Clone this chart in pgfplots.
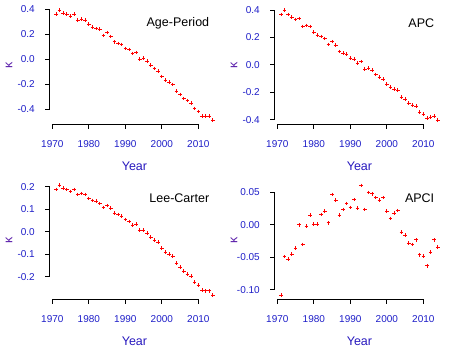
\documentclass[border=0pt]{standalone}
\usepackage{pgfplots}
\pgfplotsset{compat=1.18}
\usepackage{fontspec}
\setmainfont{Liberation Sans}
\definecolor{tickblue}{RGB}{30,30,200}
\definecolor{labblue}{RGB}{40,25,190}
\definecolor{kapcol}{RGB}{90,30,170}
\tikzset{xtl/.style={font=\fontsize{10}{12}\selectfont, text=tickblue, yshift=-19.6pt},
  ytl/.style={font=\fontsize{10}{12}\selectfont, text=tickblue, anchor=east, xshift=-11.4pt}}
\pgfplotsset{rstyle/.style={
  scale only axis, width=169.5pt, height=118.5pt,
  xmin=1969.28, xmax=2015.72,
  hide axis, clip=false,
}, rmark/.style={red, only marks, mark=+, mark size=1.8pt, line width=0.9pt}}
% R-style axes: ymin, first y tick, last y tick, list of y ticks
\newcommand{\raxes}[4]{%
  \fill[black] ([yshift=-0.5pt]axis cs:1970,#1) rectangle ([yshift=0.5pt]axis cs:2010,#1);
  \fill[black] ([xshift=-0.5pt]axis cs:1969.28,#2) rectangle ([xshift=0.5pt]axis cs:1969.28,#3);
  \pgfplotsinvokeforeach{1970,1980,1990,2000,2010}{%
    \fill[black] ([xshift=-0.5pt]axis cs:##1,#1) rectangle ([xshift=0.5pt,yshift=-5pt]axis cs:##1,#1);}
  \pgfplotsinvokeforeach{#4}{%
    \fill[black] ([yshift=-0.5pt]axis cs:1969.28,##1) rectangle ([yshift=0.5pt,xshift=-5pt]axis cs:1969.28,##1);}
}
\newcommand{\decor}[2]{% ymin, title
  \pgfplotsinvokeforeach{1970,1980,1990,2000,2010}{\node[xtl] at (axis cs:##1,#1) {##1};}
  \node[anchor=east, font=\fontsize{12.5}{14}\selectfont] at (rel axis cs:0.9617,0.851) {#2};
  \node[font=\fontsize{12.5}{14}\selectfont, text=labblue] at (rel axis cs:0.5,-0.351) {Year};
  \node[rotate=90, font=\fontsize{12.5}{14}\selectfont, text=kapcol] at (rel axis cs:-0.240,0.5) {κ};
}
\newcommand{\ylab}[2]{\node[ytl] at (axis cs:1969.28,#1) {#2};}
\begin{document}
\begin{tikzpicture}
\useasboundingbox (0,0) rectangle (450pt,350pt);
% Panel 1: Age-Period
\begin{axis}[rstyle, at={(49.7pt,225.6pt)}, anchor=south west,
  ymin=-0.5232, ymax=0.4272]
\addplot[rmark] coordinates {
(1971,0.360) (1972,0.392) (1973,0.368) (1974,0.360) (1975,0.344) (1976,0.360)
(1977,0.312) (1978,0.320) (1979,0.312) (1980,0.280) (1981,0.256) (1982,0.245)
(1983,0.240) (1984,0.190) (1985,0.215) (1986,0.183) (1987,0.140) (1988,0.127)
(1989,0.119) (1990,0.087) (1991,0.079) (1992,0.047) (1993,0.055) (1994,0.001)
(1995,0.009) (1996,-0.017) (1997,-0.049) (1998,-0.074) (1999,-0.095) (2000,-0.138)
(2001,-0.167) (2002,-0.183) (2003,-0.202) (2004,-0.256) (2005,-0.282) (2006,-0.314)
(2007,-0.333) (2008,-0.352) (2009,-0.395) (2010,-0.419) (2011,-0.456) (2012,-0.456)
(2013,-0.456) (2014,-0.488)};
\raxes{-0.5232}{-0.4}{0.4}{-0.4,-0.2,0,0.2,0.4}
\ylab{-0.4}{-0.4}\ylab{-0.2}{-0.2}\ylab{0}{0.0}\ylab{0.2}{0.2}\ylab{0.4}{0.4}
\decor{-0.5232}{Age-Period}
\end{axis}
% Panel 2: APC
\begin{axis}[rstyle, at={(274.7pt,225.6pt)}, anchor=south west,
  ymin=-0.434, ymax=0.430]
\addplot[rmark] coordinates {
(1971,0.368) (1972,0.398) (1973,0.368) (1974,0.347) (1975,0.332) (1976,0.339)
(1977,0.281) (1978,0.288) (1979,0.281) (1980,0.238) (1981,0.216) (1982,0.208)
(1983,0.192) (1984,0.150) (1985,0.170) (1986,0.143) (1987,0.097) (1988,0.085)
(1989,0.078) (1990,0.048) (1991,0.041) (1992,0.012) (1993,0.024) (1994,-0.032)
(1995,-0.024) (1996,-0.039) (1997,-0.070) (1998,-0.090) (1999,-0.104) (2000,-0.141)
(2001,-0.162) (2002,-0.177) (2003,-0.184) (2004,-0.235) (2005,-0.250) (2006,-0.279)
(2007,-0.293) (2008,-0.301) (2009,-0.344) (2010,-0.359) (2011,-0.388) (2012,-0.381)
(2013,-0.373) (2014,-0.402)};
\raxes{-0.434}{-0.4}{0.4}{-0.4,-0.2,0,0.2,0.4}
\ylab{-0.4}{-0.4}\ylab{-0.2}{-0.2}\ylab{0}{0.0}\ylab{0.2}{0.2}\ylab{0.4}{0.4}
\decor{-0.434}{APC}
\end{axis}
% Panel 3: Lee-Carter
\begin{axis}[rstyle, at={(49.7pt,50.6pt)}, anchor=south west,
  ymin=-0.3005, ymax=0.2255]
\addplot[rmark] coordinates {
(1971,0.188) (1972,0.206) (1973,0.193) (1974,0.188) (1975,0.179) (1976,0.188)
(1977,0.166) (1978,0.170) (1979,0.166) (1980,0.148) (1981,0.139) (1982,0.135)
(1983,0.126) (1984,0.108) (1985,0.117) (1986,0.104) (1987,0.082) (1988,0.077)
(1989,0.069) (1990,0.055) (1991,0.046) (1992,0.029) (1993,0.033) (1994,0.007)
(1995,0.007) (1996,-0.007) (1997,-0.024) (1998,-0.038) (1999,-0.046) (2000,-0.073)
(2001,-0.091) (2002,-0.100) (2003,-0.109) (2004,-0.140) (2005,-0.157) (2006,-0.175)
(2007,-0.188) (2008,-0.197) (2009,-0.224) (2010,-0.237) (2011,-0.259) (2012,-0.263)
(2013,-0.263) (2014,-0.281)};
\raxes{-0.3005}{-0.2}{0.2}{-0.2,-0.1,0,0.1,0.2}
\ylab{-0.2}{-0.2}\ylab{-0.1}{-0.1}\ylab{0}{0.0}\ylab{0.1}{0.1}\ylab{0.2}{0.2}
\decor{-0.3005}{Lee-Carter}
\end{axis}
% Panel 4: APCI
\begin{axis}[rstyle, at={(274.7pt,50.6pt)}, anchor=south west,
  ymin=-0.1148, ymax=0.0678]
\addplot[rmark] coordinates {
(1971,-0.108) (1972,-0.049) (1973,-0.053) (1974,-0.045) (1975,-0.036) (1976,0.000)
(1977,-0.030) (1978,-0.002) (1979,0.015) (1980,0.001) (1981,0.001) (1982,0.016)
(1983,0.021) (1984,0.003) (1985,0.047) (1986,0.038) (1987,0.015) (1988,0.024)
(1989,0.033) (1990,0.027) (1991,0.039) (1992,0.026) (1993,0.061) (1994,0.024)
(1995,0.050) (1996,0.048) (1997,0.042) (1998,0.038) (1999,0.042) (2000,0.021)
(2001,0.010) (2002,0.018) (2003,0.022) (2004,-0.011) (2005,-0.016) (2006,-0.028)
(2007,-0.030) (2008,-0.023) (2009,-0.046) (2010,-0.048) (2011,-0.063) (2012,-0.042)
(2013,-0.023) (2014,-0.034)};
\raxes{-0.1148}{-0.1}{0.05}{-0.1,-0.05,0,0.05}
\ylab{-0.1}{-0.10}\ylab{-0.05}{-0.05}\ylab{0}{0.00}\ylab{0.05}{0.05}
\decor{-0.1148}{APCI}
\end{axis}
\end{tikzpicture}
\end{document}
